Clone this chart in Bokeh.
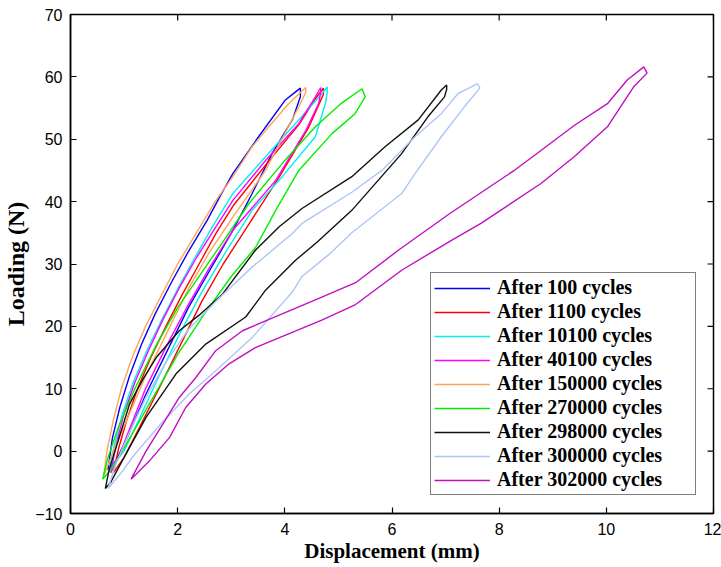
import math
from bokeh.plotting import figure
from bokeh.models import Range1d, FixedTicker
from bokeh.embed import file_html
from bokeh.resources import INLINE

labels = ["After 100 cycles", "After 1100 cycles", "After 10100 cycles", "After 40100 cycles",
          "After 150000 cycles", "After 270000 cycles", "After 298000 cycles",
          "After 300000 cycles", "After 302000 cycles"]
colors = ["#0000ff", "#ff0000", "#00f0f0", "#ff00ff", "#ffa555", "#00ee00", "#111111", "#adc6f6", "#c010c0"]

# Each loop: loading branch (upper) then unloading branch (lower), displacement (mm) / load (N)
blue_x = [0.70, 0.78, 0.92, 1.10, 1.32, 1.58, 1.88, 2.20, 2.55, 2.80, 3.03, 3.51, 4.01, 4.20, 4.29,
          4.29, 4.14, 3.76, 3.39, 3.03, 2.60, 2.20, 1.80, 1.40, 1.05, 0.85, 0.70]
blue_y = [-3.0, 2.0, 7.0, 12.0, 17.0, 22.0, 27.0, 32.0, 37.0, 41.0, 44.5, 50.4, 56.3, 57.6, 58.2,
          56.8, 53.1, 47.7, 41.3, 35.4, 29.0, 23.0, 16.0, 9.0, 2.0, -1.5, -3.0]

red_x = [0.80, 0.90, 1.05, 1.25, 1.50, 1.78, 2.08, 2.40, 2.72, 3.05, 3.70, 4.26, 4.57, 4.72,
         4.72, 4.45, 3.90, 3.30, 2.85, 2.45, 2.05, 1.65, 1.30, 1.00, 0.80]
red_y = [-3.5, 0.5, 5.0, 10.0, 15.0, 20.0, 25.0, 30.0, 35.0, 39.5, 46.5, 52.3, 56.5, 58.2,
         57.2, 52.0, 44.0, 36.0, 30.0, 24.0, 17.0, 10.0, 4.0, -1.0, -3.5]

cyan_x = [0.72, 0.82, 0.97, 1.17, 1.42, 1.70, 2.00, 2.32, 2.65, 3.03, 3.64, 4.26, 4.69, 4.79,
          4.79, 4.76, 4.57, 3.95, 3.39, 2.90, 2.45, 2.05, 1.65, 1.30, 1.00, 0.72]
cyan_y = [-3.0, 1.0, 6.0, 11.0, 16.0, 21.0, 26.0, 31.0, 36.0, 41.3, 47.2, 53.1, 57.3, 58.4,
          57.5, 55.8, 50.4, 44.0, 38.6, 32.0, 25.5, 19.0, 12.0, 5.5, 0.0, -3.0]

magenta_x = [0.75, 0.85, 1.00, 1.20, 1.45, 1.72, 2.02, 2.35, 2.68, 3.03, 3.64, 4.26, 4.57, 4.67,
             4.67, 4.63, 4.39, 3.83, 3.03, 2.60, 2.20, 1.80, 1.40, 1.10, 0.90, 0.75]
magenta_y = [-3.5, 1.0, 6.0, 11.0, 16.0, 21.0, 26.0, 31.0, 35.5, 40.2, 46.6, 52.5, 56.8, 58.3,
             57.5, 55.7, 51.4, 43.4, 35.4, 29.5, 23.5, 17.0, 10.0, 3.5, -1.0, -3.5]

orange_x = [0.62, 0.68, 0.80, 0.95, 1.15, 1.40, 1.70, 2.00, 2.35, 2.70, 3.03, 3.39, 3.70, 4.07, 4.39,
            4.39, 4.26, 3.64, 3.03, 2.60, 2.20, 1.80, 1.40, 1.05, 0.80, 0.62]
orange_y = [-4.0, 0.0, 5.0, 10.0, 15.0, 20.0, 25.0, 30.0, 35.0, 40.0, 44.0, 48.8, 52.0, 55.7, 58.3,
            57.5, 55.2, 45.0, 37.5, 32.0, 26.0, 19.0, 12.0, 5.0, 0.0, -4.0]

green_x = [0.60, 0.70, 0.90, 1.20, 1.60, 2.00, 2.40, 2.80, 3.33, 3.95, 4.57, 5.06, 5.44,
           5.50, 5.31, 4.88, 4.26, 3.83, 3.45, 3.00, 2.50, 2.00, 1.50, 1.10, 0.80, 0.60]
green_y = [-4.5, -1.0, 4.0, 10.0, 17.0, 23.0, 28.0, 33.0, 39.7, 46.1, 52.0, 55.8, 58.1,
           56.8, 54.1, 50.9, 45.0, 38.6, 32.6, 28.0, 22.0, 15.5, 8.0, 2.0, -2.5, -4.5]

black_x = [0.65, 0.72, 0.92, 1.10, 1.35, 1.60, 2.03, 2.40, 2.84, 3.45, 3.90, 4.32, 5.25, 5.87, 6.49, 6.92, 7.02,
           7.02, 6.98, 6.67, 6.18, 5.25, 4.60, 4.20, 3.64, 3.27, 2.53, 1.97, 1.41, 1.00, 0.75, 0.65]
black_y = [-6.0, -3.0, 2.5, 7.5, 11.5, 15.0, 19.3, 21.8, 25.2, 32.2, 36.0, 38.9, 44.0, 48.8, 53.1, 57.9, 58.7,
           58.0, 56.8, 53.6, 47.7, 38.6, 33.5, 30.6, 25.8, 21.5, 17.2, 12.4, 5.4, -1.0, -5.0, -6.0]

lightblue_x = [0.70, 0.85, 1.10, 1.40, 1.80, 2.20, 2.77, 3.39, 4.14, 4.32, 5.25, 5.81, 6.43, 6.92, 7.23, 7.60,
               7.64, 7.35, 6.92, 6.43, 6.18, 5.25, 4.82, 4.32, 4.14, 3.39, 2.65, 2.22, 1.70, 1.20, 0.90, 0.70]
lightblue_y = [-6.0, -2.0, 3.0, 8.5, 14.5, 19.5, 24.5, 29.5, 34.9, 36.5, 41.5, 45.0, 50.4, 54.1, 57.3, 58.9,
               58.2, 55.2, 50.4, 44.5, 41.3, 35.0, 31.5, 28.0, 25.5, 18.2, 12.4, 9.2, 4.5, -0.5, -4.0, -6.0]

purple_x = [1.13, 1.41, 1.72, 2.03, 2.34, 2.71, 3.21, 3.95, 4.69, 5.32, 6.15, 7.08, 8.28, 8.78, 9.40, 10.02, 10.39, 10.70,
            10.76, 10.51, 10.02, 9.40, 8.78, 7.66, 7.11, 6.18, 5.32, 4.69, 4.07, 3.45, 2.96, 2.53, 2.15, 1.85, 1.47, 1.13]
purple_y = [-4.5, 0.0, 4.3, 8.6, 11.8, 16.1, 19.3, 22.0, 24.7, 27.0, 32.4, 38.1, 45.0, 48.2, 52.2, 55.7, 59.5, 61.6,
            60.6, 58.4, 52.0, 47.2, 42.9, 36.5, 33.8, 29.0, 23.5, 21.0, 18.8, 16.6, 14.0, 10.8, 7.0, 2.2, -1.6, -4.5]

series_x = [blue_x, red_x, cyan_x, magenta_x, orange_x, green_x, black_x, lightblue_x, purple_x]
series_y = [blue_y, red_y, cyan_y, magenta_y, orange_y, green_y, black_y, lightblue_y, purple_y]

x_ticks = [0, 2, 4, 6, 8, 10, 12]
y_ticks = [-10, 0, 10, 20, 30, 40, 50, 60, 70]
x_min, x_max = 0, 12
y_min, y_max = -10, 70

p = figure(width=721, height=567, output_backend="svg", toolbar_location=None,
           x_range=Range1d(x_min, x_max), y_range=Range1d(y_min, y_max),
           min_border_left=67, min_border_right=8, min_border_top=14, min_border_bottom=54)
p.xgrid.visible = False
p.ygrid.visible = False
p.outline_line_color = "black"
p.outline_line_width = 1.5

for xs, ys, c, lab in zip(series_x, series_y, colors, labels):
    p.line(xs, ys, line_color=c, line_width=1.4, legend_label=lab)

# inward ticks on the top and right edges of the box
p.ray(x=x_ticks, y=[y_max] * len(x_ticks), length=6, length_units="screen",
      angle=-math.pi / 2, line_color="black", line_width=1.2)
p.ray(x=[x_max] * len(y_ticks), y=y_ticks, length=6, length_units="screen",
      angle=math.pi, line_color="black", line_width=1.2)

p.xaxis.ticker = FixedTicker(ticks=x_ticks)
p.yaxis.ticker = FixedTicker(ticks=y_ticks)
for ax in list(p.xaxis) + list(p.yaxis):
    ax.axis_line_color = "black"
    ax.axis_line_width = 1.5
    ax.major_tick_in = 6
    ax.major_tick_out = 0
    ax.minor_tick_line_color = None
    ax.major_tick_line_color = "black"
    ax.major_tick_line_width = 1.2
    ax.major_label_text_font = "Liberation Sans"
    ax.major_label_text_font_size = "16px"
    ax.major_label_text_color = "black"
    ax.axis_label_text_font = "Liberation Serif"
    ax.axis_label_text_font_style = "bold"
    ax.axis_label_text_color = "black"

p.xaxis.major_label_standoff = 9
p.yaxis.major_label_standoff = 8
p.xaxis.axis_label = "Displacement (mm)"
p.yaxis.axis_label = "Loading (N)"
p.xaxis.axis_label_text_font_size = "21px"
p.yaxis.axis_label_text_font_size = "24px"
p.xaxis.axis_label_standoff = 1
p.yaxis.axis_label_standoff = 3

leg = p.legend[0]
leg.location = (360, 18)
leg.border_line_color = "black"
leg.border_line_width = 1.5
leg.background_fill_color = "white"
leg.background_fill_alpha = 1.0
leg.label_text_font = "Liberation Serif"
leg.label_text_font_style = "bold"
leg.label_text_font_size = "20px"
leg.label_text_color = "black"
leg.label_height = 20
leg.glyph_height = 20
leg.glyph_width = 56
leg.label_width = 195
leg.spacing = 1
leg.padding = 3
leg.margin = 0
leg.label_standoff = 7

open("out.html", "w").write(file_html(p, INLINE))
